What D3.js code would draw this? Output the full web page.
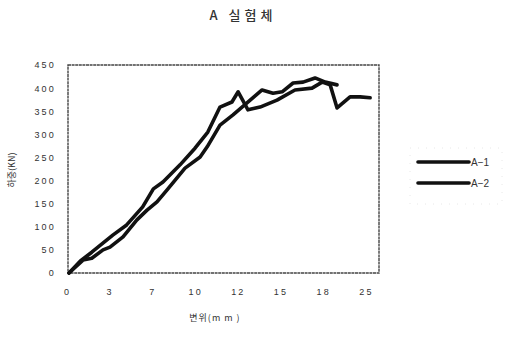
<!DOCTYPE html>
<html>
<head>
<meta charset="utf-8">
<script src="https://cdn.jsdelivr.net/npm/d3@7"></script>
<style>
  html, body { margin: 0; padding: 0; background: #fff; }
  svg { display: block; }
  text { font-family: "Liberation Sans", Arial, "Noto Sans CJK KR", sans-serif; fill: #333; }
  .kr { font-family: "Noto Sans CJK KR", "Liberation Sans", sans-serif; }
</style>
</head>
<body>
<svg id="chart" width="506" height="347"></svg>
<script>
// Load–displacement test results, specimen group A
const xTicks = [0, 3, 7, 10, 12, 15, 18, 25];          // displacement labels (mm), category axis
const yTicks = [0, 50, 100, 150, 200, 250, 300, 350, 400, 450];

const dispA1 = [0, 0.8, 1.6, 3.1, 4.4, 5.9, 6.9, 7.6, 8.8, 9.85, 10.5, 11.07, 11.63, 11.92, 12.57, 13.42, 14.61, 15.87, 17.07, 17.78, 18.8, 19.93, 22.06, 23.7, 25.35];
const loadA1 = [0, 26, 45, 82, 104, 143, 182, 197, 234, 270, 305, 359, 370, 392, 353, 359, 374, 396, 400, 413, 407, 357, 381, 381, 379];

const dispA2 = [0, 0.98, 1.6, 2.39, 2.88, 4.06, 5.36, 6.31, 7.18, 7.89, 9.15, 10.14, 10.47, 11.07, 11.68, 12.5, 13.56, 14.33, 14.97, 15.74, 16.44, 17.28, 18.0, 19.93];
const loadA2 = [0, 28, 32, 50, 56, 78, 115, 136, 154, 180, 227, 251, 273, 320, 342, 368, 396, 389, 392, 411, 413, 422, 413, 407];

const seriesNames = ["A\u22121", "A\u22122"];

const svg = d3.select("#chart");
const plot = { left: 68, right: 379, top: 65, bottom: 273 };

// evenly spaced category positions for the labelled displacements
const cat = d3.scalePoint().domain(xTicks).range([69, 368]);
const x = d3.scaleLinear().domain(xTicks).range(xTicks.map(d => cat(d)));
const y = d3.scaleLinear().domain([0, 450]).range([plot.bottom, plot.top]);

// plot frame
svg.append("rect")
  .attr("x", plot.left).attr("y", plot.top)
  .attr("width", plot.right - plot.left).attr("height", plot.bottom - plot.top)
  .attr("fill", "none").attr("stroke", "#444").attr("stroke-width", 1.4)
  .attr("stroke-dasharray", "3,0.6");

// y axis labels
const yAxis = d3.axisLeft(y).tickValues(yTicks).tickSize(0).tickPadding(12);
svg.append("g").attr("transform", `translate(${plot.left},0)`).call(yAxis)
  .call(g => g.select(".domain").remove())
  .selectAll("text")
  .attr("font-size", 9).attr("letter-spacing", 2.2).attr("fill", "#3a3a3a")
  .style("font-family", "'Liberation Sans', Arial, sans-serif");

// x axis labels
const xAxis = d3.axisBottom(x).tickValues(xTicks).tickFormat(d3.format("d")).tickSize(0).tickPadding(16);
svg.append("g").attr("transform", `translate(-2,${plot.bottom})`).call(xAxis)
  .call(g => g.select(".domain").remove())
  .selectAll("text")
  .attr("font-size", 9).attr("letter-spacing", 2.2).attr("fill", "#3a3a3a")
  .style("font-family", "'Liberation Sans', Arial, sans-serif");

// lines
const line = d3.line().x(d => x(d[0])).y(d => y(d[1])).curve(d3.curveLinear);
const series = [
  d3.zip(dispA1, loadA1),
  d3.zip(dispA2, loadA2)
];
svg.append("g").selectAll("path").data(series).join("path")
  .attr("d", line)
  .attr("fill", "none")
  .attr("stroke", "#111")
  .attr("stroke-width", 3.6)
  .attr("stroke-linejoin", "round")
  .attr("stroke-linecap", "round");

// title
svg.append("text").attr("class", "kr")
  .attr("x", 243).attr("y", 20)
  .attr("text-anchor", "middle")
  .attr("font-size", 13).attr("font-weight", 500).attr("letter-spacing", 4)
  .attr("fill", "#111")
  .text("A 실험체");

// axis titles
svg.append("text").attr("class", "kr")
  .attr("transform", "translate(15,170) rotate(-90)")
  .attr("text-anchor", "middle")
  .attr("font-size", 9)
  .text("하중(KN)");

svg.append("text").attr("class", "kr")
  .attr("x", 215).attr("y", 321)
  .attr("text-anchor", "middle")
  .attr("font-size", 9).attr("letter-spacing", 1)
  .text("변위(m m )");

// legend
const legend = svg.append("g");
legend.append("rect")
  .attr("x", 410).attr("y", 148).attr("width", 92).attr("height", 56)
  .attr("fill", "none").attr("stroke", "#e2e2e2").attr("stroke-width", 0.8)
  .attr("stroke-dasharray", "1,7");
const ly = d3.scalePoint().domain(seriesNames).range([162, 183]);
legend.selectAll("line").data(seriesNames).join("line")
  .attr("x1", 418).attr("x2", 469)
  .attr("y1", d => ly(d)).attr("y2", d => ly(d))
  .attr("stroke", "#111").attr("stroke-width", 3.6).attr("stroke-linecap", "round");
legend.selectAll("text").data(seriesNames).join("text")
  .attr("x", 471).attr("y", d => ly(d) + 3.5)
  .attr("font-size", 10)
  .text(d => d);
</script>
</body>
</html>
